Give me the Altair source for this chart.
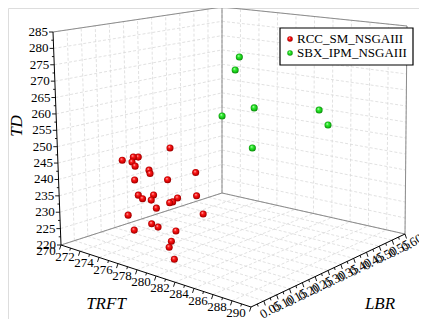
import altair as alt
import pandas as pd

# ---------------- data ----------------
series_names = ["RCC_SM_NSGAIII", "SBX_IPM_NSGAIII"]

rcc_trft = [276.1, 275.6, 274.5, 273.9, 275.5, 273.8, 276.7, 274.5, 280.2, 276.3,
            275.2, 275.5, 275.4, 276.8, 276.0, 276.8, 281.1, 277.7, 274.8, 277.1,
            275.8, 279.5, 275.7, 277.8, 276.4, 277.7, 278.9, 279.5, 280.3]
rcc_lbr = [0.20, 0.10, 0.12, 0.10, 0.08, 0.15, 0.10, 0.18, 0.15, 0.06,
           0.22, 0.10, 0.16, 0.07, 0.13, 0.20, 0.12, 0.15, 0.24, 0.11,
           0.05, 0.20, 0.14, 0.09, 0.05, 0.16, 0.10, 0.07, 0.06]
rcc_td = [250.0, 249.2, 247.9, 246.9, 248.1, 243.8, 246.1, 241.3, 246.8, 243.8,
          238.9, 237.5, 235.9, 238.3, 235.6, 235.0, 241.3, 235.9, 230.8, 234.6,
          233.0, 232.2, 227.8, 230.0, 229.0, 226.7, 226.4, 226.0, 223.4]

sbx_trft = [277.8, 278.8, 277.9, 278.8, 282.0, 284.4, 279.7]
sbx_lbr = [0.40, 0.35, 0.45, 0.30, 0.55, 0.50, 0.38]
sbx_td = [275.2, 272.7, 257.7, 259.4, 256.5, 254.4, 247.8]

trft_ticks = [270, 272, 274, 276, 278, 280, 282, 284, 286, 288, 290]
lbr_ticks = [0.05, 0.10, 0.15, 0.20, 0.25, 0.30, 0.35, 0.40, 0.45, 0.50, 0.55, 0.60]
td_ticks = [220, 225, 230, 235, 240, 245, 250, 255, 260, 265, 270, 275, 280, 285]

# ---------------- 3D box projection ----------------
W, H = 411, 311
T0, T1, L0, L1, Z0, Z1 = 270, 290, 0.0, 0.6, 220, 285
P = {(0,0,0):(61,245),(1,0,0):(251,307),(1,1,0):(405,234),(0,1,0):(222,193),
     (0,0,1):(53,32),(1,0,1):(248,80),(1,1,1):(407,26),(0,1,1):(222,7)}

def proj(t, l, z):
    u=(t-T0)/(T1-T0); v=(l-L0)/(L1-L0); w=(z-Z0)/(Z1-Z0)
    x=y=0.0
    for (i,j,k),(px,py) in P.items():
        wt=(u if i else 1-u)*(v if j else 1-v)*(w if k else 1-w)
        x+=wt*px; y+=wt*py
    return x, y

xs = alt.Scale(domain=[8, 8+W], nice=False, zero=False)
ys = alt.Scale(domain=[8, 8+H], nice=False, zero=False, reverse=True)
FONT = "Times New Roman"

def seg_df(segs):
    rows = []
    for a, b in segs:
        x, y = proj(*a); x2, y2 = proj(*b)
        rows.append(dict(x=x, y=y, x2=x2, y2=y2))
    return pd.DataFrame(rows)

def rules(df, color, width, dash=None):
    kw = dict(color=color, strokeWidth=width)
    if dash: kw['strokeDash'] = dash
    return alt.Chart(df).mark_rule(**kw).encode(
        x=alt.X('x:Q', scale=xs, axis=None), y=alt.Y('y:Q', scale=ys, axis=None),
        x2='x2:Q', y2='y2:Q')

def texts(df, **props):
    base = dict(font=FONT, fontSize=13, color='black')
    base.update(props)
    return alt.Chart(df).mark_text(**base).encode(
        x=alt.X('x:Q', scale=xs, axis=None), y=alt.Y('y:Q', scale=ys, axis=None), text='label:N')

grid = []
for t in trft_ticks:
    grid.append(((t,L0,Z0),(t,L1,Z0)))
    grid.append(((t,L1,Z0),(t,L1,Z1)))
for l in lbr_ticks:
    grid.append(((T0,l,Z0),(T1,l,Z0)))
    grid.append(((T0,l,Z0),(T0,l,Z1)))
for z in td_ticks:
    grid.append(((T0,L0,z),(T0,L1,z)))
    grid.append(((T0,L1,z),(T1,L1,z)))
edges = [((T0,L0,Z0),(T0,L1,Z0)), ((T0,L1,Z0),(T1,L1,Z0)), ((T0,L1,Z0),(T0,L1,Z1)),
         ((T0,L0,Z1),(T0,L1,Z1)), ((T0,L1,Z1),(T1,L1,Z1)), ((T1,L1,Z0),(T1,L1,Z1))]
axes = [((T0,L0,Z0),(T0,L0,Z1)), ((T0,L0,Z0),(T1,L0,Z0)), ((T1,L0,Z0),(T1,L1,Z0))]

tick_rows = []
for z in td_ticks:
    x, y = proj(T0, L0, z); tick_rows.append(dict(x=x, y=y, x2=x-4, y2=y))
    if z < Z1:
        x, y = proj(T0, L0, z+2.5); tick_rows.append(dict(x=x, y=y, x2=x-2, y2=y))
for t in trft_ticks:
    x, y = proj(t, L0, Z0); tick_rows.append(dict(x=x, y=y, x2=x-1.5, y2=y+4.5))
    if t < T1:
        x, y = proj(t+1, L0, Z0); tick_rows.append(dict(x=x, y=y, x2=x-0.7, y2=y+2.5))
for l in lbr_ticks:
    x, y = proj(T1, l, Z0); tick_rows.append(dict(x=x, y=y, x2=x+1.5, y2=y+4.5))
    x, y = proj(T1, l-0.025, Z0); tick_rows.append(dict(x=x, y=y, x2=x+0.7, y2=y+2.5))
ticks_df = pd.DataFrame(tick_rows)

td_lab = pd.DataFrame([dict(x=proj(T0,L0,z)[0]-5, y=proj(T0,L0,z)[1], label=str(z)) for z in td_ticks])
tr_lab = pd.DataFrame([dict(x=proj(t,L0,Z0)[0]-15, y=proj(t,L0,Z0)[1]+6, label=str(t)) for t in trft_ticks])
lb_lab = pd.DataFrame([dict(x=proj(T1,l,Z0)[0]+7, y=proj(T1,l,Z0)[1]+9, label=f"{l:.2f}") for l in lbr_ticks])

def pts(tr, lb, td):
    rows = []
    for a, b, c in zip(tr, lb, td):
        x, y = proj(a, b, c); rows.append(dict(x=x, y=y))
    return pd.DataFrame(rows)

def grad(c0, c1, c2, c3):
    return alt.RadialGradient(gradient='radial', x1=0.38, y1=0.32, r1=0.0, x2=0.5, y2=0.5, r2=0.55,
        stops=[alt.GradientStop(color=c0, offset=0), alt.GradientStop(color=c1, offset=0.3),
               alt.GradientStop(color=c2, offset=0.7), alt.GradientStop(color=c3, offset=1)])
red_fill = grad('#ffe6e6', '#ff2020', '#d40000', '#7a0000')
grn_fill = grad('#e6ffe6', '#36f036', '#14c014', '#056605')

def sphere(df, fill, size=50):
    return alt.Chart(df).mark_circle(fill=fill, size=size, opacity=1).encode(
        x=alt.X('x:Q', scale=xs, axis=None), y=alt.Y('y:Q', scale=ys, axis=None))

legend_box = alt.Chart(pd.DataFrame({'x':[280],'x2':[413],'y':[28],'y2':[65]})).mark_rect(
    fill='white', stroke='black', strokeWidth=1.2).encode(
    x=alt.X('x:Q', scale=xs, axis=None), y=alt.Y('y:Q', scale=ys, axis=None), x2='x2:Q', y2='y2:Q')
leg_lab = pd.DataFrame({'x':[297,297], 'y':[39,53], 'label':series_names})

titles = [
    texts(pd.DataFrame({'x':[17],'y':[126],'label':['TD']}), fontSize=17, fontStyle='italic', angle=270),
    texts(pd.DataFrame({'x':[106],'y':[304],'label':['TRFT']}), fontSize=17, fontStyle='italic'),
    texts(pd.DataFrame({'x':[380],'y':[304],'label':['LBR']}), fontSize=17, fontStyle='italic'),
]

chart = alt.layer(
    rules(seg_df(grid), '#d9d9d9', 0.8, [3, 2]),
    rules(seg_df(edges), '#8c8c8c', 1),
    rules(seg_df(axes), 'black', 1),
    rules(ticks_df, 'black', 0.9),
    texts(td_lab, align='right', baseline='middle'),
    texts(tr_lab, align='center', baseline='middle'),
    texts(lb_lab, align='center', baseline='middle', angle=330),
    *titles,
    sphere(pts(rcc_trft, rcc_lbr, rcc_td), red_fill),
    sphere(pts(sbx_trft, sbx_lbr, sbx_td), grn_fill),
    legend_box,
    sphere(pd.DataFrame({'x':[290],'y':[39]}), red_fill, 30),
    sphere(pd.DataFrame({'x':[290],'y':[53]}), grn_fill, 30),
    texts(leg_lab, align='left', baseline='middle'),
).properties(width=W, height=H, padding=0, autosize='none').configure_view(stroke=None).configure(background='white')

chart.save("out.html", embed_options={"renderer": "svg", "actions": False})
